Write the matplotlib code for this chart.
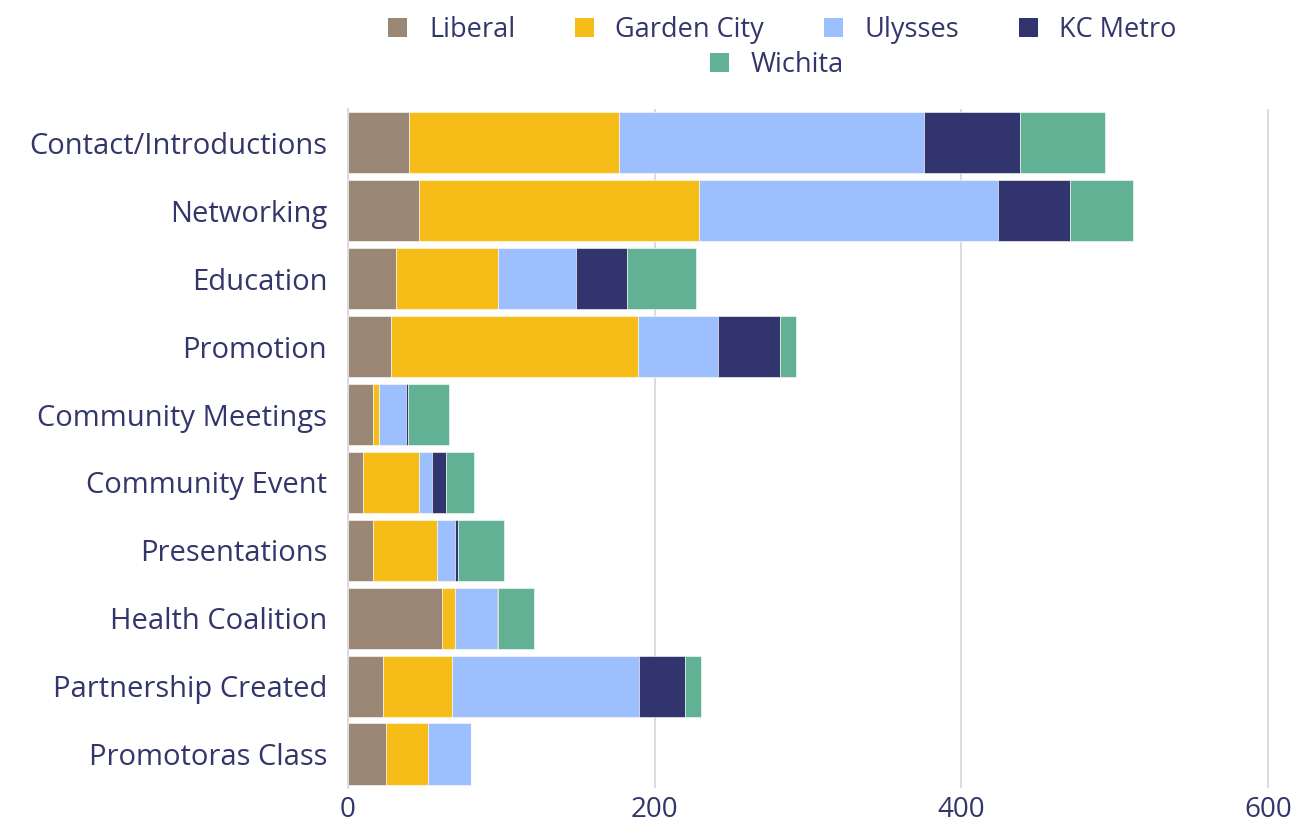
import numpy as np
import matplotlib
matplotlib.use("Agg")
import matplotlib.pyplot as plt
from matplotlib.patches import Patch

categories = ["Contact/Introductions", "Networking", "Education", "Promotion",
              "Community Meetings", "Community Event", "Presentations",
              "Health Coalition", "Partnership Created", "Promotoras Class"]

liberal     = [40, 46, 31, 28, 16, 10, 16, 61, 23, 25]
garden_city = [137, 183, 67, 161, 4, 36, 42, 9, 45, 27]
ulysses     = [199, 195, 51, 52, 18, 9, 12, 27, 122, 28]
kc_metro    = [62, 47, 33, 41, 1, 9, 2, 1, 30, 0]
wichita     = [56, 41, 45, 10, 27, 18, 30, 23, 10, 0]

series = [("Liberal", liberal, "#9A8775"),
          ("Garden City", garden_city, "#F6BC18"),
          ("Ulysses", ulysses, "#9DBFFD"),
          ("KC Metro", kc_metro, "#32346E"),
          ("Wichita", wichita, "#62B194")]

text_color = "#33366A"
plt.rcParams['font.family'] = ['Open Sans', 'DejaVu Sans']

fig = plt.figure(figsize=(13, 8.3), dpi=100)
ax = fig.add_axes([0.2677, 0.0506, 0.7253, 0.8181])

y = np.arange(len(categories))
left = np.zeros(len(categories))
for name, vals, color in series:
    vals = np.array(vals, dtype=float)
    ax.barh(y, vals, left=left, height=0.9, color=color, label=name,
            edgecolor="white", linewidth=0.4, zorder=3)
    left += vals

ax.set_ylim(len(categories) - 0.5, -0.5)
ax.set_xlim(0, 615)
ax.set_xticks([0, 200, 400, 600])
ax.set_yticks(y)
ax.set_yticklabels(categories)
ax.tick_params(axis="y", length=0, pad=15, labelsize=21, labelcolor=text_color)
ax.tick_params(axis="x", length=0, pad=6, labelsize=20, labelcolor=text_color)
ax.grid(axis="x", color="#D8D8E4", linewidth=1.3, zorder=0)
for s in ["top", "right", "bottom"]:
    ax.spines[s].set_visible(False)
ax.spines["left"].set_color("#D8D8E4")
ax.spines["left"].set_linewidth(1.3)

handles = [Patch(facecolor=c, label=n) for n, _, c in series]
leg1 = fig.legend(handles=handles[:4], loc="upper center", bbox_to_anchor=(0.602, 1.01),
                  ncol=4, frameon=False, fontsize=19.5, handlelength=0.7, handleheight=0.7,
                  columnspacing=2.2, handletextpad=0.8)
leg2 = fig.legend(handles=handles[4:], loc="upper center", bbox_to_anchor=(0.598, 0.968),
                  ncol=1, frameon=False, fontsize=19.5, handlelength=0.7, handleheight=0.7,
                  handletextpad=0.8)
for leg in (leg1, leg2):
    for t in leg.get_texts():
        t.set_color(text_color)

fig.savefig("out.png", dpi=100)
